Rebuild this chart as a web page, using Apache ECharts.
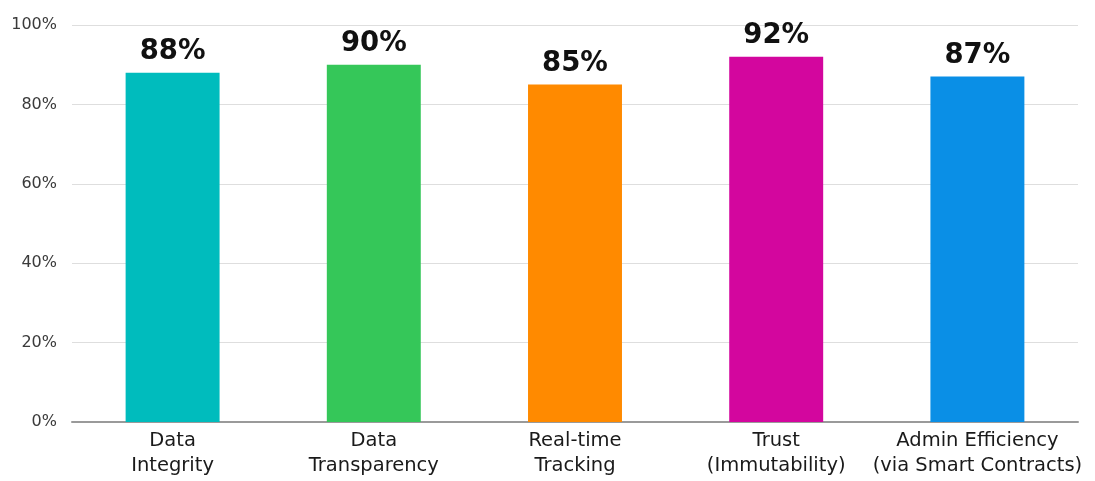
<!DOCTYPE html>
<html>
<head>
<meta charset="utf-8">
<script src="https://cdn.jsdelivr.net/npm/echarts@6/dist/echarts.min.js"></script>
<style>html,body{margin:0;padding:0;background:#fff}#c{width:1095px;height:481px}</style>
</head>
<body>
<div id="c"></div>
<script>
const categories = ["Data\nIntegrity", "Data\nTransparency", "Real-time\nTracking", "Trust\n(Immutability)", "Admin Efficiency\n(via Smart Contracts)"];
const values = [88, 90, 85, 92, 87];
const barColors = ["#00BCBD", "#35C759", "#FF8A00", "#D3069E", "#0A8FE6"];
const yTicks = [0, 20, 40, 60, 80, 100];

const chart = echarts.init(document.getElementById('c'), null, {renderer: 'canvas'});
chart.setOption({
  animation: false,
  grid: {left: 72, right: 17, top: 25, bottom: 59},
  xAxis: {
    type: 'category',
    data: categories,
    axisLine: {lineStyle: {color: '#9a9a9a', width: 2}},
    axisTick: {show: false},
    axisLabel: {
      color: '#1a1a1a', fontSize: 19.5, fontFamily: 'DejaVu Sans', lineHeight: 25,
      margin: 6, interval: 0
    }
  },
  yAxis: {
    type: 'value', min: 0, max: 100, interval: 20,
    axisLabel: {formatter: v => yTicks.includes(v) ? v + '%' : '', color: '#3a3a3a', fontSize: 16, fontFamily: 'DejaVu Sans', margin: 15},
    splitLine: {lineStyle: {color: '#dedede', width: 1}},
    axisLine: {show: false}, axisTick: {show: false}
  },
  series: [{
    type: 'bar',
    data: values.map((v, i) => ({value: v, itemStyle: {color: barColors[i]}})),
    barWidth: '46.7%',
    label: {
      show: true, position: 'top', distance: 7,
      formatter: p => p.value + '%',
      color: '#111', fontSize: 27.5, fontWeight: 'bold', fontFamily: 'DejaVu Sans'
    }
  }]
});
</script>
</body>
</html>
